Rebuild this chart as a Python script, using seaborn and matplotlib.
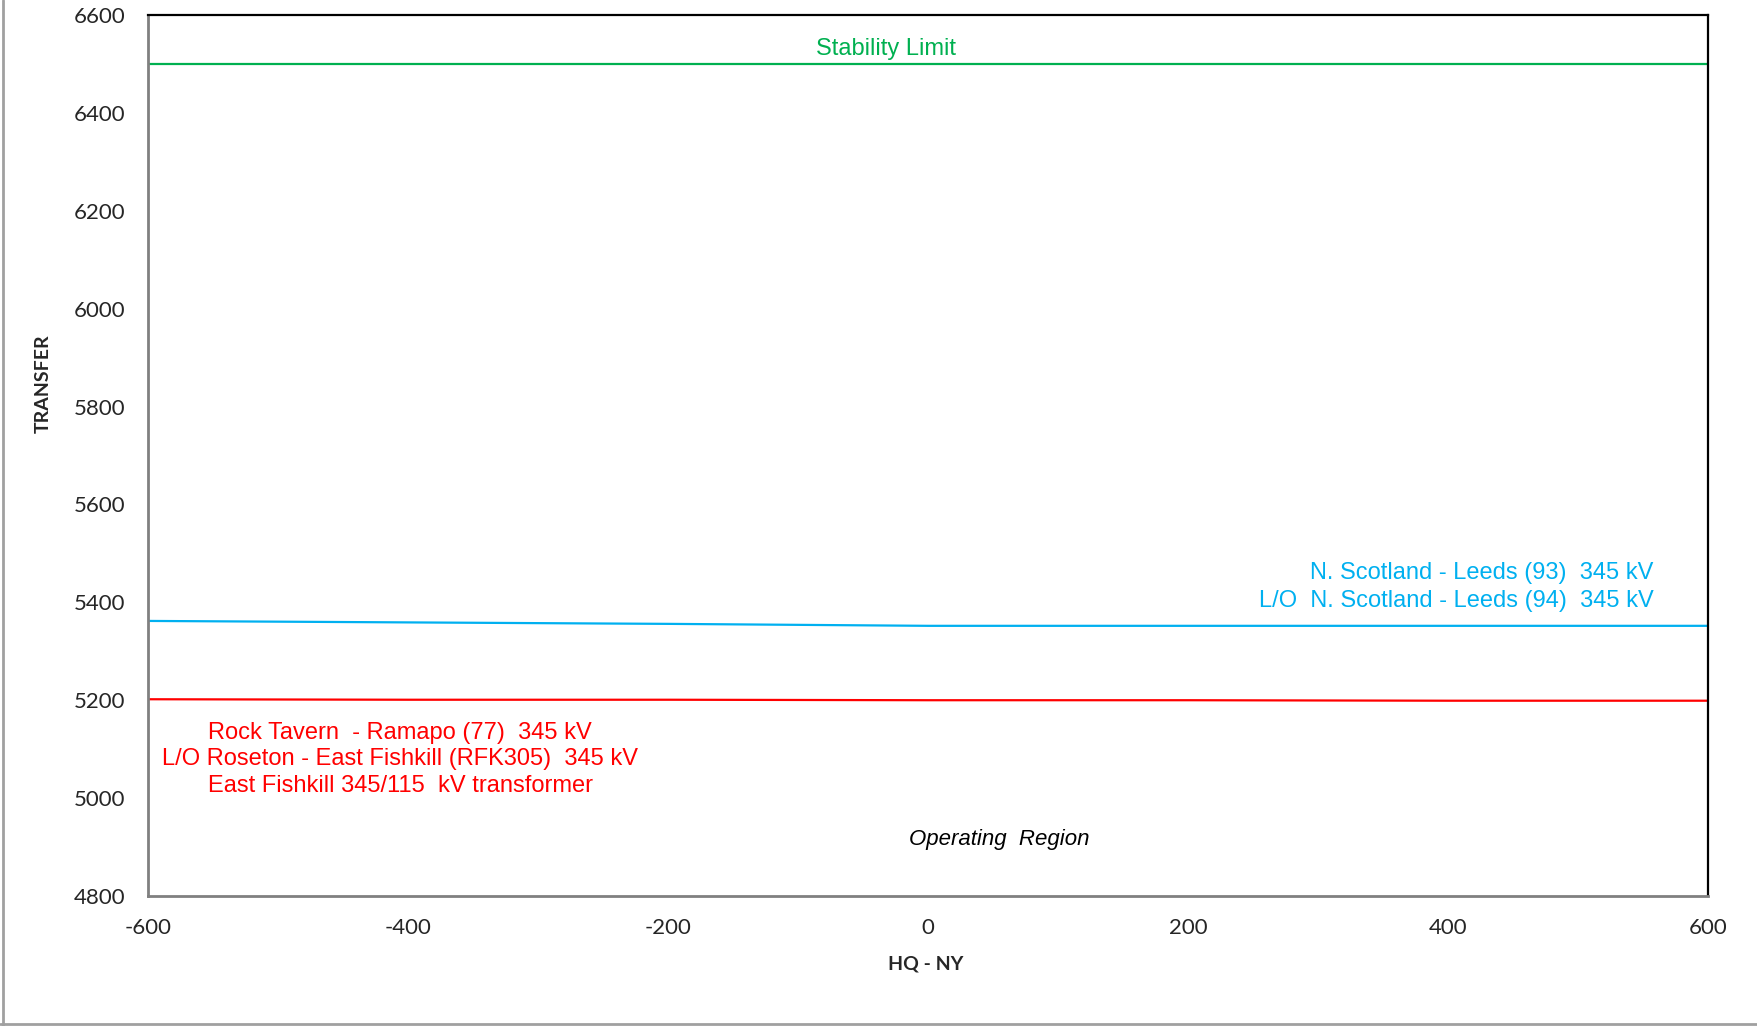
import numpy as np
import pandas as pd
import matplotlib
matplotlib.use("Agg")
import matplotlib.pyplot as plt
import seaborn as sns
from matplotlib.lines import Line2D

# limit curves (HQ - NY flow vs transfer)
hq_ny = [-600, -400, -200, 0, 200, 400, 600]
stability = [6500, 6500, 6500, 6500, 6500, 6500, 6500]
scotland_leeds = [5362, 5359, 5356, 5352, 5352, 5352, 5352]
rock_tavern = [5202, 5201, 5201, 5200, 5200, 5199, 5199]

x_ticks = [-600, -400, -200, 0, 200, 400, 600]
y_ticks = [4800, 5000, 5200, 5400, 5600, 5800, 6000, 6200, 6400, 6600]

green = '#00B050'
blue = '#00B0F0'
red = '#FF0000'

df = pd.DataFrame({
    'HQ - NY': hq_ny * 3,
    'TRANSFER': stability + scotland_leeds + rock_tavern,
    'limit': ['stab'] * 7 + ['scot'] * 7 + ['rock'] * 7,
})

sns.set_style('white')
plt.rcParams['font.family'] = ['Liberation Sans', 'DejaVu Sans']

fig = plt.figure(figsize=(17.58, 10.26), dpi=100)
ax = fig.add_axes([148 / 1758, 1 - 896 / 1026, 1560 / 1758, 881 / 1026])

sns.lineplot(data=df, x='HQ - NY', y='TRANSFER', hue='limit',
             palette={'stab': green, 'scot': blue, 'rock': red},
             linewidth=1.6, legend=False, ax=ax)

ax.set_xlim(-600, 600)
ax.set_ylim(4800, 6600)
ax.set_xticks(x_ticks)
ax.set_yticks(y_ticks)
ax.set_xticklabels([str(v) for v in x_ticks], fontsize=16, family='Lato')
ax.set_yticklabels([str(v) for v in y_ticks], fontsize=16, family='Lato')
ax.tick_params(direction='in', length=7, width=1.2, color='#808080')
ax.tick_params(axis='y', pad=16.5)
ax.tick_params(axis='x', pad=16)

for side in ['left', 'bottom']:
    ax.spines[side].set_color('#808080')
    ax.spines[side].set_linewidth(2)
for side in ['top', 'right']:
    ax.spines[side].set_color('black')
    ax.spines[side].set_linewidth(1.6)

ax.set_xlabel('')
ax.set_ylabel('')
fig.text(926 / 1758, 1 - 964 / 1026, 'HQ - NY', ha='center', va='center',
         fontsize=14, fontweight='bold', family='Lato')
fig.text(43 / 1758, 1 - 384 / 1026, 'TRANSFER', ha='center', va='center',
         rotation=90, fontsize=14, fontweight='bold', family='Lato')

ax.text(-32, 6530, 'Stability Limit', color=green, fontsize=17,
        ha='center', va='center')
ax.text(558, 5459, 'N. Scotland - Leeds (93)  345 kV', color=blue,
        fontsize=17, ha='right', va='center')
ax.text(558, 5403, 'L/O  N. Scotland - Leeds (94)  345 kV', color=blue,
        fontsize=17, ha='right', va='center')
ax.text(-554, 5134, 'Rock Tavern  - Ramapo (77)  345 kV', color=red,
        fontsize=17, ha='left', va='center')
ax.text(-589, 5079, 'L/O Roseton - East Fishkill (RFK305)  345 kV', color=red,
        fontsize=17, ha='left', va='center')
ax.text(-554, 5024, 'East Fishkill 345/115  kV transformer', color=red,
        fontsize=17, ha='left', va='center')
ax.text(55, 4915, 'Operating  Region', color='black', fontsize=16,
        style='italic', ha='center', va='center')

# chart area frame (left and bottom edges visible)
fig.add_artist(Line2D([0.0015, 0.0015], [0, 1], transform=fig.transFigure,
                      color='#A0A0A0', linewidth=2))
fig.add_artist(Line2D([0, 1], [0.0015, 0.0015], transform=fig.transFigure,
                      color='#A0A0A0', linewidth=2))

fig.savefig('out.png', dpi=100)
